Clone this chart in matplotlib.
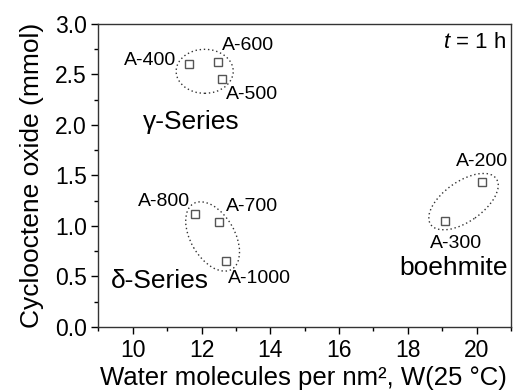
import matplotlib
matplotlib.use('Agg')
import matplotlib.pyplot as plt
from matplotlib.patches import Ellipse
from matplotlib.transforms import ScaledTranslation
from matplotlib.ticker import MultipleLocator

plt.rcParams['font.family'] = ['Liberation Sans', 'DejaVu Sans']
plt.rcParams['mathtext.fontset'] = 'custom'
plt.rcParams['mathtext.rm'] = 'Liberation Sans'
plt.rcParams['mathtext.it'] = 'Liberation Sans:italic'

# data
samples = ['A-400', 'A-600', 'A-500', 'A-800', 'A-700', 'A-1000', 'A-200', 'A-300']
water = [11.62, 12.49, 12.60, 11.80, 12.50, 12.72, 20.17, 19.08]
oxide = [2.60, 2.62, 2.45, 1.12, 1.04, 0.65, 1.43, 1.05]

series_names = ['\u03b3-Series', '\u03b4-Series', 'boehmite']

# layout: label positions (data coords)
label_xy = {
    'A-400': (10.49, 2.64), 'A-600': (13.36, 2.79), 'A-500': (13.47, 2.30),
    'A-800': (10.91, 1.24), 'A-700': (13.46, 1.19), 'A-1000': (13.68, 0.48),
    'A-200': (20.15, 1.64), 'A-300': (19.40, 0.83),
}
series_xy = [(11.70, 2.03), (10.78, 0.45), (19.33, 0.58)]
# ellipse: centre (data), width/height (px), angle
ellipses = [
    ((12.09, 2.53), 57, 44, 0),
    ((12.32, 0.895), 76, 44, -60),
    ((19.62, 1.24), 80, 40, 35),
]

fig = plt.figure(figsize=(5.13, 3.91), dpi=100)
ax = fig.add_axes([0.192, 0.164, 0.804, 0.775])

ax.plot(water, oxide, 's', ms=6, mfc='white', mec='#555555', mew=1.0, zorder=3)

for s in samples:
    x, y = label_xy[s]
    ax.text(x, y, s, fontsize=14, ha='center', va='center')

for name, (x, y) in zip(series_names, series_xy):
    ax.text(x, y, name, fontsize=19, ha='center', va='center')

for (cx, cy), w, h, ang in ellipses:
    tr = fig.dpi_scale_trans + ScaledTranslation(cx, cy, ax.transData)
    e = Ellipse((0, 0), w / 100, h / 100, angle=ang, transform=tr,
                fill=False, ls=(0, (1, 2)), lw=1.0, ec='#333333')
    ax.add_patch(e)

ax.text(20.85, 2.82, r'$\it{t}$ = 1 h', fontsize=16, ha='right', va='center')

ax.set_xlim(9, 21)
ax.set_ylim(0, 3.0)
ax.xaxis.set_major_locator(MultipleLocator(2))
ax.xaxis.set_minor_locator(MultipleLocator(1))
ax.yaxis.set_major_locator(MultipleLocator(0.5))
ax.yaxis.set_minor_locator(MultipleLocator(0.25))
ax.yaxis.set_major_formatter(matplotlib.ticker.FormatStrFormatter('%.1f'))
ax.tick_params(which='major', direction='out', length=5, labelsize=16.5, width=1)
ax.tick_params(which='minor', direction='out', length=3, width=1)
for sp in ax.spines.values():
    sp.set_linewidth(1.0)
    sp.set_color('#333333')

ax.set_xlabel('Water molecules per nm\u00b2, W(25 \u00b0C)', fontsize=18.5, va='center')
ax.xaxis.set_label_coords(0.497, -0.168)
ax.set_ylabel('Cyclooctene oxide (mmol)', fontsize=19, labelpad=8)

fig.savefig('out.png', dpi=100)
